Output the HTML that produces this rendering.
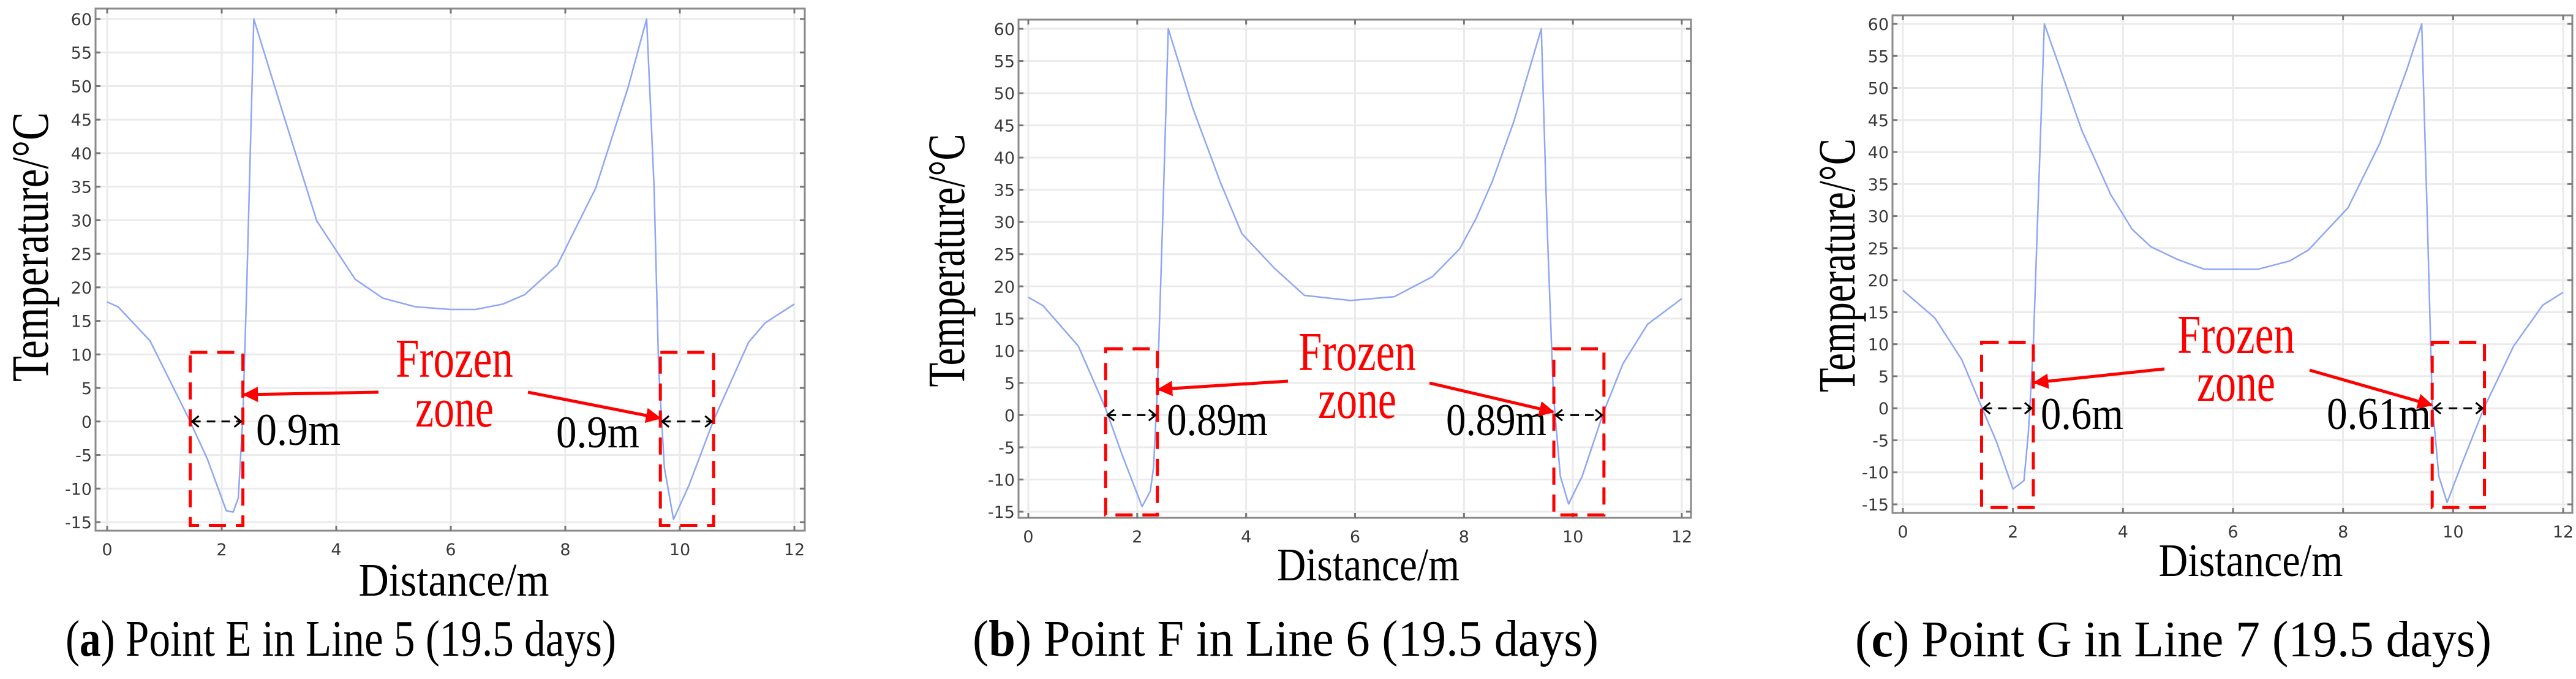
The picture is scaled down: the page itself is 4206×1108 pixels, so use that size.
<!DOCTYPE html>
<html><head><meta charset="utf-8"><style>
html,body{margin:0;padding:0;background:#fff;}
svg{display:block;}
.tick{font-family:"DejaVu Sans",sans-serif;font-size:27px;fill:#3a3a3a;}
.serif{font-family:"Liberation Serif",serif;}
</style></head><body>
<svg id="fig" width="4206" height="1108" viewBox="0 0 4206 1108" xmlns="http://www.w3.org/2000/svg">
<defs>
<marker id="redhead" viewBox="0 0 10 10" refX="9" refY="5" markerWidth="5" markerHeight="5" orient="auto"><path d="M0,0 L10,5 L0,10 z" fill="#f00"/></marker>
</defs>
</svg>
<script>
// ----- data (x in m, y in °C) -----
const xTicks = [0,2,4,6,8,10,12];
const yTicks = [-15,-10,-5,0,5,10,15,20,25,30,35,40,45,50,55,60];

const xA = [0,0.19,0.75,1.43,1.75,2.08,2.2,2.29,2.37,2.44,2.56,3.09,3.66,4.33,4.81,5.38,6.0,6.43,6.91,7.29,7.86,8.53,9.1,9.42,9.55,9.63,9.73,9.89,10.16,10.59,11.2,11.49,12];
const yA = [17.8,17.1,12.0,0.35,-5.6,-13.3,-13.5,-11.4,0.9,20.9,60,45.4,29.9,21.2,18.4,17.1,16.7,16.7,17.5,18.9,23.3,34.8,49.9,60,35.1,8.0,-6.9,-14.6,-9.5,0.2,11.8,14.7,17.5];

const xB = [0,0.27,0.92,1.42,1.72,2.09,2.24,2.3,2.37,2.47,2.57,3.02,3.52,3.92,4.52,5.07,5.92,6.72,7.42,7.92,8.22,8.52,8.92,9.42,9.52,9.64,9.77,9.92,10.17,10.57,10.92,11.37,12];
const yB = [18.3,17,10.7,1.0,-6.1,-14.2,-11.8,-8.1,4,30.9,60,47.7,36.3,28.2,22.8,18.6,17.8,18.4,21.5,25.8,30.5,36.3,45.7,60,30.9,3.3,-9.5,-13.8,-9.5,0.6,8,14.1,18.1];

const xC = [0,0.58,1.07,1.43,1.7,2.0,2.2,2.28,2.37,2.45,2.57,2.96,3.25,3.78,4.17,4.51,5.0,5.48,6.45,7.03,7.37,8.09,8.67,9.16,9.43,9.53,9.62,9.74,9.89,10.13,10.57,11.1,11.63,12];
const yC = [18.4,14.1,7.6,0.2,-5.2,-12.6,-11.3,-3.9,9.7,30,60,50.5,43.4,33.3,27.9,25.2,23.2,21.7,21.7,23,24.7,31.3,41.4,52.9,60,30,0.9,-10.6,-14.7,-9.3,0.2,9.7,16.1,18.1];

// frozen-zone extents (m) and labels
const zoneA = [[1.45,2.37],[9.66,10.59]]; const labA = ["0.9m","0.9m"];
const zoneB = [[1.42,2.37],[9.65,10.57]]; const labB = ["0.89m","0.89m"];
const zoneC = [[1.43,2.37],[9.62,10.57]]; const labC = ["0.6m","0.61m"];

const svg = document.getElementById('fig');
const NS = 'http://www.w3.org/2000/svg';
function mk(tag, attrs, parent){const e=document.createElementNS(NS,tag);for(const k in attrs)e.setAttribute(k,attrs[k]);(parent||svg).appendChild(e);return e;}

const panels = [
 {id:'a', xs:xA, ys:yA, zones:zoneA, labs:labA, x0:175, x12:1297, y60:31, ym15:852, fl:156, fr:1314, ft:14, fb:866,
  ytx:50, yty:403, ytl:440, dx:741, dy:972, dl:311, cap:['a',') Point E in Line 5 (19.5 days)'], capx:107, capw:899, capy:1070,
  frz:[742,615,696], arrL:[618,640], arrR:[862,640], labX:[418,908], labY:[726,730], labW:[138,136]},
 {id:'b', xs:xB, ys:yB, zones:zoneB, labs:labB, x0:1679, x12:2746, y60:47, ym15:835, fl:1663, fr:2761, ft:32, fb:845,
  ytx:1546, yty:425, ytl:413, dx:2234, dy:947, dl:298, cap:['b',') Point F in Line 6 (19.5 days)'], capx:1588, capw:1022, capy:1070,
  frz:[2216,604,682], arrL:[2103,622], arrR:[2334,625], labX:[1905,2361], labY:[710,710], labW:[165,164]},
 {id:'c', xs:xC, ys:yC, zones:zoneC, labs:labC, x0:3107, x12:4185, y60:39, ym15:823, fl:3090, fr:4200, ft:25, fb:837,
  ytx:3000, yty:433, ytl:414, dx:3675, dy:940, dl:301, cap:['c',') Point G in Line 7 (19.5 days)'], capx:3029, capw:1039, capy:1071,
  frz:[3651,576,654], arrL:[3534,602], arrR:[3771,604], labX:[3332,3799], labY:[700,700], labW:[135,170]}
];

panels.forEach(p=>{
  const g = mk('g',{});
  
  
  const sx = v => p.x0 + (v/12)*(p.x12-p.x0);
  const sy = v => p.y60 + (60-v)/75*(p.ym15-p.y60);
  xTicks.forEach(t=>{
    const l=mk('line',{x1:sx(t),x2:sx(t),y1:p.ft,y2:p.fb,stroke:'#ebebeb','stroke-width':3},g);
    
    
  });
  yTicks.forEach(t=>{
    const l=mk('line',{x1:p.fl,x2:p.fr,y1:sy(t),y2:sy(t),stroke:'#ebebeb','stroke-width':3},g);
    
    
  });
  const fr=mk('rect',{x:p.fl,y:p.ft,width:p.fr-p.fl,height:p.fb-p.ft,fill:'none',stroke:'#8a8a8a','stroke-width':3},g);
  
  
  xTicks.forEach(t=>{
    mk('line',{x1:sx(t),x2:sx(t),y1:p.fb,y2:p.fb-8,stroke:'#777','stroke-width':3},g);
    mk('line',{x1:sx(t),x2:sx(t),y1:p.ft,y2:p.ft+8,stroke:'#777','stroke-width':3},g);
    const tx=mk('text',{x:sx(t),y:p.fb+40,'text-anchor':'middle',class:'tick'},g);
    tx.textContent=t;
    
    
  });
  yTicks.forEach(t=>{
    mk('line',{x1:p.fl,x2:p.fl+8,y1:sy(t),y2:sy(t),stroke:'#777','stroke-width':3},g);
    mk('line',{x1:p.fr,x2:p.fr-8,y1:sy(t),y2:sy(t),stroke:'#777','stroke-width':3},g);
    const tx=mk('text',{x:p.fl-6,y:sy(t)+10,'text-anchor':'end',class:'tick'},g);
    tx.textContent=t;
    
    
  });
  const d = p.xs.map((x,i)=>(i?'L':'M')+sx(x).toFixed(1)+','+sy(p.ys[i]).toFixed(1)).join(' ');
  const path=mk('path',{d:d,fill:'none',stroke:'#8ea6f6','stroke-width':2.5,'stroke-linejoin':'round'},g);
  
  
  p.zones.forEach((z,i)=>{
    const bx=mk('rect',{x:sx(z[0]),y:sy(10.3),width:sx(z[1])-sx(z[0]),height:sy(-15.5)-sy(10.3),fill:'none',stroke:'#f00','stroke-width':5,'stroke-dasharray':'28,16'},g);
    
    
    const y0=sy(0), a=sx(z[0]), b=sx(z[1]);
    const dl=mk('line',{x1:a+3,x2:b-3,y1:y0,y2:y0,stroke:'#000','stroke-width':3,'stroke-dasharray':'14,10'},g);
    
    
    mk('path',{d:`M${a+14},${y0-9} L${a+3},${y0} L${a+14},${y0+9} M${b-14},${y0-9} L${b-3},${y0} L${b-14},${y0+9}`,fill:'none',stroke:'#000','stroke-width':3},g);
    const lt=mk('text',{x:p.labX[i],y:p.labY[i],class:'serif','font-size':74,fill:'#000',textLength:p.labW[i],lengthAdjust:'spacingAndGlyphs'},g);
    lt.textContent=p.labs[i];
    
    
  });
  const t1=mk('text',{x:p.frz[0],y:p.frz[1],'text-anchor':'middle',class:'serif','font-size':90,fill:'#f00',textLength:192,lengthAdjust:'spacingAndGlyphs'},g);
  t1.textContent='Frozen';
  
  
  const t2=mk('text',{x:p.frz[0],y:p.frz[2],'text-anchor':'middle',class:'serif','font-size':90,fill:'#f00',textLength:128,lengthAdjust:'spacingAndGlyphs'},g);
  t2.textContent='zone';
  
  
  const z0=p.zones[0], z1=p.zones[1];
  const a1=mk('line',{x1:p.arrL[0],y1:p.arrL[1],x2:sx(z0[1])+2,y2:sy(4),stroke:'#f00','stroke-width':5,'marker-end':'url(#redhead)'},g);
  
  
  const a2=mk('line',{x1:p.arrR[0],y1:p.arrR[1],x2:sx(z1[0])-1,y2:sy(0.5),stroke:'#f00','stroke-width':5,'marker-end':'url(#redhead)'},g);
  
  
  const yt=mk('text',{x:0,y:0,transform:`translate(${p.ytx+28},${p.yty}) rotate(-90)`,'text-anchor':'middle',class:'serif','font-size':86,fill:'#000',textLength:p.ytl,lengthAdjust:'spacingAndGlyphs'},g);
  yt.textContent='Temperature/°C';
  
  
  const xt=mk('text',{x:p.dx,y:p.dy,'text-anchor':'middle',class:'serif','font-size':76,fill:'#000',textLength:p.dl,lengthAdjust:'spacingAndGlyphs'},g);
  xt.textContent='Distance/m';
  
  
  const cp=mk('text',{x:p.capx,y:p.capy,class:'serif','font-size':84,fill:'#000',textLength:p.capw,lengthAdjust:'spacingAndGlyphs'},g);
  
  
  const s0=mk('tspan',{},cp); s0.textContent='(';
  const s1=mk('tspan',{'font-weight':'bold'},cp); s1.textContent=p.cap[0];
  const s2=mk('tspan',{},cp); s2.textContent=p.cap[1];
});
</script>
</body></html>
